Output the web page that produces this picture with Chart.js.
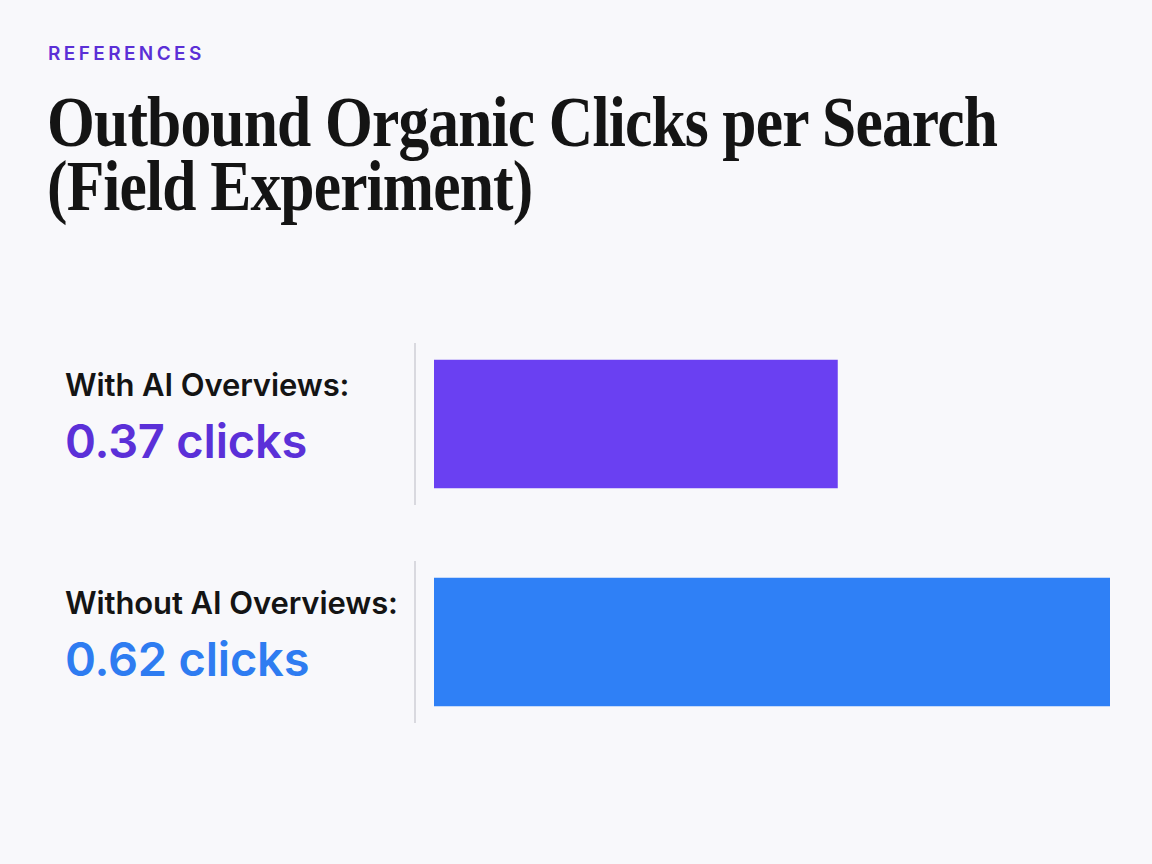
<!DOCTYPE html>
<html>
<head>
<meta charset="utf-8">
<script src="https://cdn.jsdelivr.net/npm/chart.js@4/dist/chart.umd.min.js"></script>
<style>
  html, body { margin: 0; padding: 0; }
  body {
    width: 1152px; height: 864px; position: relative; overflow: hidden;
    background: #f8f8fb; font-family: Inter, "Noto Sans", sans-serif;
  }
  .kicker {
    position: absolute; left: 48px; top: 42px;
    font-size: 19px; font-weight: 600; letter-spacing: 3.4px; color: #5b2fd6;
  }
  .title {
    position: absolute; left: 47px; top: 90px; margin: 0;
    font-family: "Liberation Serif", "DejaVu Serif", serif;
    font-size: 72px; font-weight: 700; line-height: 64px; color: #141414;
    transform-origin: left top; white-space: nowrap; letter-spacing: -1px;
  }
  .label {
    position: absolute; left: 65px;
    font-weight: 600; white-space: nowrap;
  }
  .label .name { font-size: 31px; line-height: 36px; color: #141414; letter-spacing: -0.1px; }
  .label .value { font-size: 47px; line-height: 50px; margin-top: 13px; letter-spacing: -0.2px; }
  #chart-wrap { position: absolute; left: 400px; top: 315px; width: 720px; height: 436px; }
</style>
</head>
<body>
<div class="kicker">REFERENCES</div>
<h1 class="title" id="title">Outbound Organic Clicks per Search<br>(Field Experiment)</h1>
<div id="labels"></div>
<div id="chart-wrap"><canvas id="clicks-chart"></canvas></div>

<script>
// Data
const categories = ['With AI Overviews:', 'Without AI Overviews:'];
const clicks = [0.37, 0.62];
const valueLabels = ['0.37 clicks', '0.62 clicks'];
const barColors = ['#6a40f2', '#2f80f6'];
const textColors = ['#5b30d8', '#2e7cf1'];

// Squeeze the serif title to the reference width (condensed look)
const title = document.getElementById('title');
const probe = document.createElement('span');
probe.textContent = 'Outbound Organic Clicks per Search';
title.appendChild(probe);
const firstLineWidth = probe.getBoundingClientRect().width;
probe.remove();
title.style.transform = `scaleX(${950 / firstLineWidth})`;

// Divider segments next to each bar
const dividerPlugin = {
  id: 'dividers',
  afterDatasetsDraw(chart) {
    const { ctx, scales: { y } } = chart;
    ctx.save();
    ctx.strokeStyle = '#d9d9df';
    ctx.lineWidth = 2;
    categories.forEach((c, i) => {
      const cy = y.getPixelForValue(i);
      ctx.beginPath();
      ctx.moveTo(15, cy - 81);
      ctx.lineTo(15, cy + 81);
      ctx.stroke();
    });
    ctx.restore();
  }
};

// Left-hand labels placed from the y scale
function placeLabels(chart) {
  const container = document.getElementById('labels');
  const y = chart.scales.y;
  container.innerHTML = categories.map((c, i) => {
    const cy = 315 + y.getPixelForValue(i);
    return `
      <div class="label" style="top: ${cy - 57}px;">
        <div class="name">${c}</div>
        <div class="value" style="color: ${textColors[i]};">${valueLabels[i]}</div>
      </div>`;
  }).join('');
}

const clicksChart = new Chart(document.getElementById('clicks-chart'), {
  type: 'bar',
  data: {
    labels: categories,
    datasets: [{
      data: clicks,
      backgroundColor: barColors,
      barThickness: 128,
      borderWidth: 0
    }]
  },
  options: {
    indexAxis: 'y',
    responsive: true,
    maintainAspectRatio: false,
    animation: false,
    layout: { padding: { left: 34, right: 10, top: 0, bottom: 0 } },
    plugins: {
      legend: { display: false },
      tooltip: { enabled: false }
    },
    scales: {
      x: { display: false, min: 0, max: 0.62 },
      y: { display: false }
    }
  },
  plugins: [dividerPlugin]
});

placeLabels(clicksChart);
</script>
</body>
</html>
